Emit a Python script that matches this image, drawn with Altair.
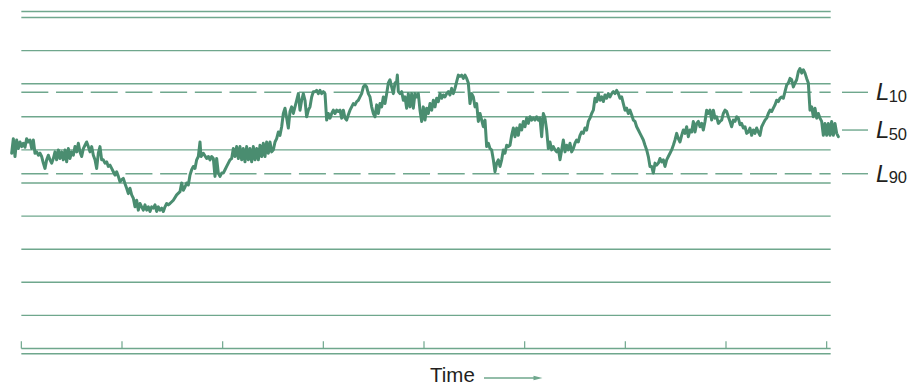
import altair as alt
import pandas as pd

# ---------------- data ----------------
# sound level (dB) versus time (arbitrary time units); ticks carry no labels
TICKS = [0, 302, 604, 906, 1208, 1510, 1812, 2114, 2416]
GRID_DB = [100, 95, 90, 85, 80, 75, 70, 65, 60, 55, 50]
FRAME_DB = [100.9, 49.2]
L_NAMES = ["10", "50", "90"]
L_VALUES = [88.7, 83.0, 76.4]
DASHED = ["10", "90"]

STEP = 5
SEG_A_START = -29
SEG_A_DB = [79.5, 81.7, 79.0, 81.5, 80.2, 81.2, 80.5, 81.0, 80.4, 81.7,
            81.2, 81.5, 80.2, 81.5, 79.5, 79.7, 79.2, 79.5, 79.0, 78.0,
            77.2, 78.5, 79.2, 78.5, 78.0, 78.7, 79.7, 78.5, 80.0, 78.7,
            79.7, 78.5, 80.0, 78.2, 80.2, 78.7, 79.7, 79.2, 80.5, 79.7,
            81.0, 79.7, 79.0, 80.2, 80.7, 81.2, 80.5, 79.7, 80.5, 79.2,
            78.5, 77.2, 79.5, 80.5, 78.5, 78.5, 78.0, 78.2, 77.5, 77.7,
            77.2, 76.7, 76.2, 76.7, 76.0, 75.2, 75.5, 75.7, 74.9, 74.2,
            73.4, 74.2, 73.2, 72.7, 71.4, 72.4, 70.9, 71.9, 71.4, 70.9,
            71.7, 70.9, 71.4, 70.7, 71.4, 71.2, 71.7, 70.7, 71.4, 70.9,
            71.2, 70.7, 71.4, 71.9, 71.7]

SEG_B_T = [446, 456, 466, 476, 481, 486, 491, 496, 501, 506, 511, 516, 521, 526, 531, 536, 539,
           546, 556, 561, 566, 571, 576, 581, 586, 591, 596, 601, 606, 611, 616, 621, 626, 631, 636]
SEG_B_DB = [71.9, 72.4, 73.2, 73.7, 75.0, 73.9, 74.4, 75.0, 74.7, 76.2, 77.0, 77.5, 77.2, 78.5,
            79.0, 81.2, 79.0, 79.5, 78.7, 79.0, 78.5, 79.0, 78.7, 76.0, 78.7, 76.5, 76.0, 76.5,
            76.5, 77.0, 77.5, 78.0, 78.5, 78.7, 80.2]

MID1_START = 641
MID1_DB = [79.0, 80.5, 78.7, 80.5, 78.5, 80.2, 78.2, 80.5, 78.5, 80.2,
           78.2, 80.5, 78.5, 80.2, 78.5, 80.7, 79.0, 81.0, 79.0, 81.2,
           79.5, 81.2, 79.7, 80.0, 81.2, 81.7, 82.7, 82.2, 83.5, 85.5,
           86.3, 84.8, 83.3, 85.8, 86.5, 85.5, 86.5, 87.5, 88.5, 86.0,
           87.5, 88.5, 87.5, 85.0, 86.0, 86.5, 88.0, 88.8, 88.8, 89.0,
           88.5, 89.0, 88.5, 88.8, 88.5, 84.5, 85.5, 84.8, 85.5, 86.0,
           85.5, 86.0, 85.8]
MID2_START = 956
MID2_DB = [86.0, 84.8, 86.0, 84.8, 84.5, 85.3, 86.0, 86.5, 87.0, 86.8,
           87.3, 87.5, 88.0, 88.5, 89.5, 89.8, 89.5, 88.5, 88.0, 86.5,
           85.5, 85.0, 86.8, 85.5, 87.0, 86.5, 88.0, 87.0, 88.5, 90.1,
           90.6, 89.5, 88.5, 90.1, 90.3]
PEAK_T = [1128]
PEAK_DB = [91.3]
MID3_START = 1131
MID3_DB = [88.8, 88.5, 88.8, 87.5, 88.0, 86.3, 88.5, 86.5, 88.5, 86.3,
           88.5, 88.0, 88.5, 86.0, 84.3, 86.5, 84.5, 86.3, 85.5, 87.0,
           86.0, 87.5, 86.5, 87.8, 87.3, 88.5, 87.8, 88.3, 88.0, 88.5,
           88.8, 88.3, 89.3, 88.5, 89.3, 90.3, 91.3, 91.1, 91.3, 90.8,
           91.3, 90.8, 90.1, 87.0, 88.5, 88.0, 86.5, 87.0, 84.3, 85.5,
           84.5, 83.5, 84.5, 80.5, 81.0, 80.2, 80.0, 78.5, 76.7, 78.0,
           78.5, 77.5, 78.5, 80.0, 79.5, 80.7, 80.5]
LATE_START = 1466
LATE_DB = [80.7, 82.2, 83.3, 82.0, 83.3, 82.2, 83.8, 83.0, 84.3, 83.5,
           84.8, 84.0, 85.0, 84.5, 84.8, 84.5, 85.0, 84.5, 84.8, 82.0,
           85.5, 84.8, 83.0, 80.2, 81.2, 80.0, 80.5, 80.0, 79.7, 80.2,
           78.5, 80.0, 81.5, 79.7, 80.7, 80.0, 81.0, 79.7, 80.2, 81.0,
           81.5, 81.2, 82.2, 82.7, 82.5, 83.3, 83.0, 84.3, 84.8, 85.5,
           86.0, 87.8, 87.3, 88.5, 87.5, 88.0, 87.3, 88.3, 87.8, 88.5,
           88.0, 88.5, 88.8, 88.5, 89.0, 88.5, 87.8, 88.0, 87.0, 86.0,
           86.3, 85.5, 86.0, 85.3, 84.5, 84.3, 83.5, 83.0, 82.5, 82.0,
           81.5, 80.7, 80.0, 79.0, 77.5, 77.5, 76.5, 78.0, 77.7, 78.0,
           78.7, 78.2, 78.5, 77.5, 78.5, 79.0, 79.5, 80.0, 80.7, 81.5,
           82.5, 81.7,
           81.2, 82.2, 83.0, 82.5, 83.5, 82.0, 83.0, 82.7, 84.3, 82.7,
           84.0, 84.3, 83.5, 84.0, 83.0, 84.3, 86.0, 85.5, 86.0, 84.5,
           86.0, 84.8, 85.0, 84.0, 84.3, 84.5, 85.5, 86.0, 85.8, 85.0,
           84.3, 83.5, 84.5, 84.3, 85.0, 84.8, 83.8, 84.0, 83.3, 83.5,
           82.5, 82.7, 83.3, 82.2, 83.0, 82.5, 83.3, 82.7, 82.2, 83.5,
           84.0, 84.5, 84.8, 85.5, 86.0, 85.8, 86.3, 86.8, 87.5, 87.3,
           87.8, 88.0, 87.8, 88.8, 89.8, 90.1, 90.8, 90.6, 89.5, 90.1,
           90.6, 91.8, 92.3, 91.6, 92.1, 91.6, 90.8, 90.1, 86.0, 86.5,
           85.0, 86.3, 84.8, 85.5, 84.8, 84.3, 82.2, 84.0, 82.2, 84.0,
           82.2, 84.3, 82.2, 84.0, 82.5, 82.0]

# ---------------- layout constants (data units) ----------------
X_DOMAIN = [-40, 2666]
Y_DOMAIN = [44.335, 101.435]
GRID_X0, GRID_X1 = 0, 2428
LEAD_X0, LEAD_X1 = 2462, 2540
L_X, SUB_X = 2564, 2602
TICK_TOP = 51.1
TIME_POS = (1226, 44.94)
ARROW = (1388, 1550, 45.54)

GRID_C = "#6fa78d"
SERIES_C = "#4a8d70"
TEXT_C = "#231f20"


def regular(start, vals):
    return [start + STEP * i for i in range(len(vals))], list(vals)


t_all, db_all = regular(SEG_A_START, SEG_A_DB)
t_all += SEG_B_T
db_all += SEG_B_DB
for s, v in [(MID1_START, MID1_DB), (MID2_START, MID2_DB)]:
    tt, vv = regular(s, v)
    t_all += tt
    db_all += vv
t_all += PEAK_T
db_all += PEAK_DB
for s, v in [(MID3_START, MID3_DB), (LATE_START, LATE_DB)]:
    tt, vv = regular(s, v)
    t_all += tt
    db_all += vv

series = pd.DataFrame({"t": t_all, "db": db_all})
grid = pd.DataFrame({"db": GRID_DB + FRAME_DB})
grid["x0"] = GRID_X0
grid["x1"] = GRID_X1
levels = pd.DataFrame({"name": L_NAMES, "lvl": L_VALUES})
levels["x0"] = GRID_X0
levels["x1"] = GRID_X1
levels["lx0"] = LEAD_X0
levels["lx1"] = LEAD_X1
levels["tx"] = L_X
levels["sx"] = SUB_X
dashed = levels[levels["name"].isin(DASHED)]
ticks = pd.DataFrame({"t": TICKS})
ticks["y0"] = 50
ticks["y1"] = TICK_TOP
time_df = pd.DataFrame({"t": [TIME_POS[0]], "db": [TIME_POS[1]]})
arrow_df = pd.DataFrame({"x0": [ARROW[0]], "x1": [ARROW[1]], "db": [ARROW[2]]})

xs = alt.Scale(domain=X_DOMAIN, nice=False, zero=False)
ys = alt.Scale(domain=Y_DOMAIN, nice=False, zero=False)


def X(f):
    return alt.X(f, type="quantitative", scale=xs, axis=None)


def Y(f):
    return alt.Y(f, type="quantitative", scale=ys, axis=None)


grid_layer = alt.Chart(grid).mark_rule(color=GRID_C, strokeWidth=1.4).encode(
    x=X("x0"), x2="x1", y=Y("db"))

dash_layer = alt.Chart(dashed).mark_rule(
    color=GRID_C, strokeWidth=1.4, strokeDash=[27, 7.7]).encode(
    x=X("x0"), x2="x1", y=Y("lvl"))

tick_layer = alt.Chart(ticks).mark_rule(color=GRID_C, strokeWidth=1.2).encode(
    x=X("t"), y=Y("y0"), y2="y1")

lead_layer = alt.Chart(levels).mark_rule(color=GRID_C, strokeWidth=1.4).encode(
    x=X("lx0"), x2="lx1", y=Y("lvl"))

l_text = alt.Chart(levels).mark_text(
    text="L", font="Liberation Sans", fontStyle="italic", fontSize=24,
    align="left", baseline="alphabetic", dy=8, color=TEXT_C).encode(
    x=X("tx"), y=Y("lvl"))

sub_text = alt.Chart(levels).mark_text(
    font="Liberation Sans", fontSize=16.5, align="left", baseline="alphabetic",
    dy=9.5, color=TEXT_C).encode(x=X("sx"), y=Y("lvl"), text="name:N")

line_layer = alt.Chart(series).mark_line(
    color=SERIES_C, strokeWidth=3.0, strokeJoin="round", strokeCap="round").encode(
    x=X("t"), y=Y("db"), order="t:Q")

time_text = alt.Chart(time_df).mark_text(
    text="Time", font="Liberation Sans", fontSize=20.5, align="left",
    baseline="alphabetic", color=TEXT_C).encode(x=X("t"), y=Y("db"))

arrow_line = alt.Chart(arrow_df).mark_rule(color=GRID_C, strokeWidth=1.4).encode(
    x=X("x0"), x2="x1", y=Y("db"))

arrow_head = alt.Chart(arrow_df).mark_point(
    shape="M-1,-0.5L1,0L-1,0.5Z", filled=True, size=81, opacity=1, color=GRID_C).encode(
    x=X("x1"), y=Y("db"))

chart = alt.layer(
    grid_layer, dash_layer, tick_layer, lead_layer, line_layer,
    l_text, sub_text, time_text, arrow_line, arrow_head
).properties(
    width=902, height=378, padding=0,
    autosize=alt.AutoSizeParams(type="none"),
).configure_view(stroke=None)

chart.save("out.html", embed_options={"renderer": "svg", "actions": False})
